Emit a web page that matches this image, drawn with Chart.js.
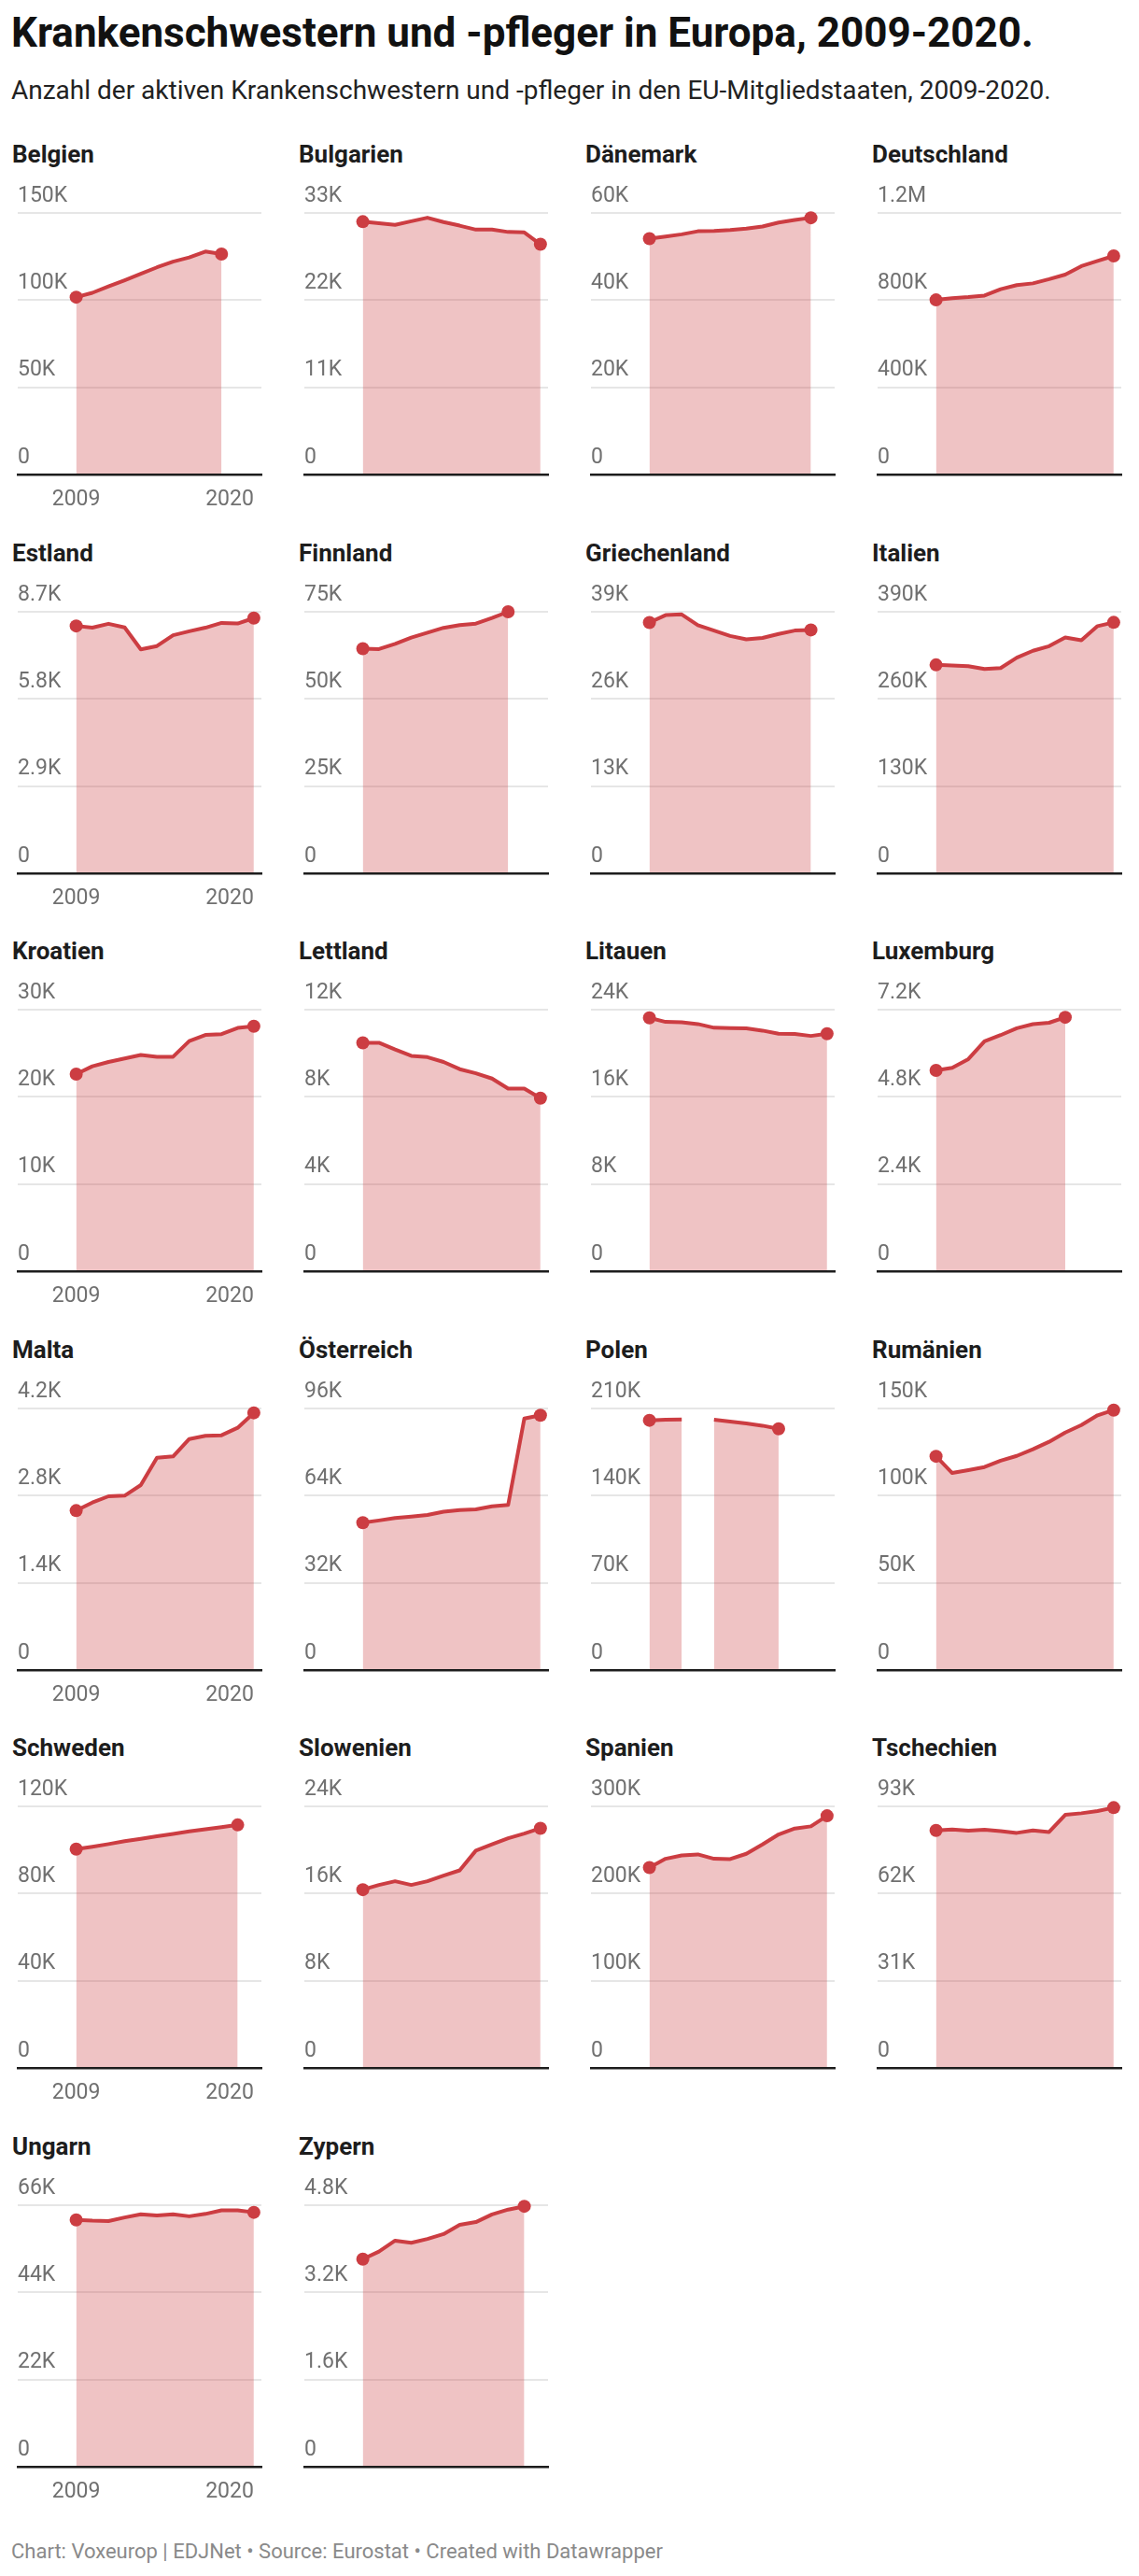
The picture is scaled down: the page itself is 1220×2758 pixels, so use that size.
<!DOCTYPE html>
<html lang="de">
<head>
<meta charset="utf-8">
<title>Krankenschwestern und -pfleger in Europa, 2009-2020.</title>
<script src="https://cdn.jsdelivr.net/npm/chart.js@4.4.1/dist/chart.umd.min.js"></script>
<style>
  html, body { margin: 0; padding: 0; background: #fff; }
  body { width: 1220px; height: 2758px; position: relative; overflow: hidden; font-family: Roboto, "Noto Sans", sans-serif; }
  .hed { position: absolute; left: 12px; top: 10px; font-size: 44px; line-height: 50px; font-weight: 700; color: #111; white-space: nowrap; }
  .dek { position: absolute; left: 12px; top: 81px; font-size: 28px; line-height: 32px; color: #222; white-space: nowrap; }
  .panel { position: absolute; width: 275px; height: 403px; }
  .panel h3 { margin: 0; padding-left: 1px; font-size: 26px; line-height: 30px; font-weight: 700; color: #1d1d1d; white-space: nowrap; }
  .panel canvas { position: absolute; left: 0; top: 43px; }
  .foot { position: absolute; left: 12px; top: 2719px; font-size: 22px; line-height: 26px; color: #8a8a8a; white-space: nowrap; }
</style>
</head>
<body>
<div class="hed">Krankenschwestern und -pfleger in Europa, 2009-2020.</div>
<div class="dek">Anzahl der aktiven Krankenschwestern und -pfleger in den EU-Mitgliedstaaten, 2009-2020.</div>
<div id="grid"></div>
<div class="foot">Chart: Voxeurop | EDJNet • Source: Eurostat • Created with Datawrapper</div>

<script>
/* ============================================================
   Krankenschwestern und -pfleger in Europa — small multiples
   values in thousands (K)
   ============================================================ */

var YEARS = [2009, 2010, 2011, 2012, 2013, 2014, 2015, 2016, 2017, 2018, 2019, 2020];

var COUNTRIES = ['Belgien', 'Bulgarien', 'Dänemark', 'Deutschland',
                 'Estland', 'Finnland', 'Griechenland', 'Italien',
                 'Kroatien', 'Lettland', 'Litauen', 'Luxemburg',
                 'Malta', 'Österreich', 'Polen', 'Rumänien',
                 'Schweden', 'Slowenien', 'Spanien', 'Tschechien',
                 'Ungarn', 'Zypern'];

// top of each y axis (K); ticks are 0, 1/3, 2/3 and full
var Y_MAX = [150, 33, 60, 1200,
             8.7, 75, 39, 390,
             30, 12, 24, 7.2,
             4.2, 96, 210, 150,
             120, 24, 300, 93,
             66, 4.8];

var belgien      = [101.7, 104.2, 107.9, 111.4, 115.1, 118.8, 122.1, 124.5, 127.9, 126.4, null, null];
var bulgarien    = [31.9, 31.7, 31.5, 31.95, 32.4, 31.85, 31.4, 30.9, 30.9, 30.6, 30.55, 29.05];
var daenemark    = [54.1, 54.6, 55.1, 55.8, 55.9, 56.1, 56.4, 56.9, 57.8, 58.4, 58.9, null];
var deutschland  = [801, 809, 814, 821, 850, 869, 877, 896, 917, 956, 980, 1003];
var estland      = [8.23, 8.17, 8.30, 8.18, 7.45, 7.56, 7.92, 8.05, 8.17, 8.33, 8.31, 8.49];
var finnland     = [64.4, 64.3, 65.8, 67.6, 69.0, 70.4, 71.2, 71.6, 73.2, 75.0, null, null];
var griechenland = [37.4, 38.5, 38.6, 37.0, 36.2, 35.4, 34.9, 35.1, 35.7, 36.2, 36.3, null];
var italien      = [310.8, 309.8, 308.9, 304.7, 306.1, 321.5, 331.8, 338.7, 351.8, 347.6, 368.6, 374.2];
var kroatien     = [22.6, 23.5, 24.0, 24.4, 24.8, 24.6, 24.6, 26.4, 27.1, 27.2, 27.9, 28.1];
var lettland     = [10.48, 10.48, 10.17, 9.88, 9.82, 9.60, 9.27, 9.08, 8.84, 8.38, 8.38, 7.94];
var litauen      = [23.25, 22.88, 22.85, 22.68, 22.34, 22.31, 22.28, 22.08, 21.79, 21.77, 21.59, 21.79];
var luxemburg    = [5.53, 5.60, 5.84, 6.33, 6.50, 6.69, 6.80, 6.84, 6.99, null, null, null];
var malta        = [2.56, 2.69, 2.79, 2.80, 2.97, 3.41, 3.43, 3.71, 3.76, 3.77, 3.89, 4.13];
var oesterreich  = [54.1, 54.9, 55.8, 56.3, 56.9, 58.1, 58.7, 59.0, 60.1, 60.6, 92.3, 93.5];
var polen        = [200.5, 201.0, 201.2, null, 201.0, 199.5, 198.0, 196.2, 193.7, null, null, null];
var rumaenien    = [122.6, 113.0, 114.6, 116.4, 120.1, 122.8, 126.6, 130.9, 136.2, 140.5, 146.1, 149.1];
var schweden     = [100.4, 101.5, 102.7, 104.0, 105.1, 106.3, 107.4, 108.5, 109.5, 110.5, 111.5, null];
var slowenien    = [16.36, 16.79, 17.13, 16.79, 17.13, 17.65, 18.13, 19.94, 20.51, 21.08, 21.51, 21.99];
var spanien      = [229.9, 239.9, 243.8, 244.9, 239.9, 239.5, 245.6, 256.3, 267.8, 274.6, 277.1, 289.2];
var tschechien   = [84.45, 84.79, 84.34, 84.68, 84.23, 83.57, 84.45, 83.90, 90.0, 90.55, 91.33, 92.55];
var ungarn       = [62.3, 62.1, 62.0, 62.9, 63.7, 63.4, 63.7, 63.2, 63.8, 64.7, 64.7, 64.2];
var zypern       = [3.81, 3.95, 4.15, 4.11, 4.18, 4.27, 4.44, 4.49, 4.63, 4.72, 4.78, null];

var SERIES = [belgien, bulgarien, daenemark, deutschland,
              estland, finnland, griechenland, italien,
              kroatien, lettland, litauen, luxemburg,
              malta, oesterreich, polen, rumaenien,
              schweden, slowenien, spanien, tschechien,
              ungarn, zypern];

// layout
var COL_LEFT = [12, 319, 626, 933];
var GRID_TOP = 228, ROW_PITCH = 426.6;
var PANEL_W = 275, CANVAS_H = 360;
var X_MIN = 2005.38, X_MAX = 2020.47;

var RED = '#cc3d42';
var RED_FILL = 'rgba(204,61,66,0.31)';
var TICK_GREY = '#707070';

function fmtK(v) {
  if (v === 0) return '0';
  if (v >= 1000) return parseFloat((v / 1000).toFixed(1)) + 'M';
  return parseFloat(v.toFixed(1)) + 'K';
}

function endIndexes(arr) {
  var first = -1, last = -1;
  arr.forEach(function(v, i) {
    if (v == null) return;
    if (first < 0) first = i;
    last = i;
  });
  return [first, last];
}

// 2009 centred, 2020 flush right, first column only
var yearLabels = {
  id: 'yearLabels',
  afterDraw: function(chart, args, opts) {
    if (!opts.show) return;
    var x = chart.scales.x, ctx = chart.ctx, y = chart.chartArea.bottom + 33;
    ctx.save();
    ctx.font = '23px Roboto';
    ctx.fillStyle = TICK_GREY;
    ctx.textBaseline = 'alphabetic';
    ctx.textAlign = 'center';
    ctx.fillText(String(YEARS[0]), x.getPixelForValue(YEARS[0]), y);
    ctx.textAlign = 'right';
    ctx.fillText(String(YEARS[YEARS.length - 1]), x.getPixelForValue(YEARS[YEARS.length - 1]), y);
    ctx.restore();
  }
};

function makePanel(i) {
  var col = i % 4, row = Math.floor(i / 4);
  var top = GRID_TOP + row * ROW_PITCH - 78;

  var panel = document.createElement('div');
  panel.className = 'panel';
  panel.style.left = COL_LEFT[col] + 'px';
  panel.style.top = top + 'px';
  panel.innerHTML = '<h3>' + COUNTRIES[i] + '</h3>';
  var canvas = document.createElement('canvas');
  canvas.width = PANEL_W;
  canvas.height = CANVAS_H;
  panel.appendChild(canvas);
  document.getElementById('grid').appendChild(panel);

  var values = SERIES[i];
  var ends = endIndexes(values);
  var max = Y_MAX[i];

  new Chart(canvas.getContext('2d'), {
    type: 'line',
    data: {
      datasets: [{
        data: values.map(function(v, k) { return { x: YEARS[k], y: v }; }),
        borderColor: RED,
        backgroundColor: RED_FILL,
        borderWidth: 4,
        borderJoinStyle: 'round',
        fill: 'origin',
        tension: 0,
        spanGaps: false,
        clip: false,
        pointRadius: function(ctx) { return (ctx.dataIndex === ends[0] || ctx.dataIndex === ends[1]) ? 7 : 0; },
        pointBackgroundColor: RED,
        pointBorderWidth: 0,
        pointHoverRadius: 0
      }]
    },
    options: {
      responsive: false,
      animation: false,
      events: [],
      layout: { padding: { top: 35, bottom: 45, left: 0, right: 0 } },
      plugins: {
        legend: { display: false },
        tooltip: { enabled: false },
        yearLabels: { show: col === 0 }
      },
      scales: {
        x: {
          type: 'linear', min: X_MIN, max: X_MAX,
          grid: { display: false, drawTicks: false },
          ticks: { display: false },
          border: { display: true, color: '#1d1d1d', width: 2.5, z: 1 }
        },
        y: {
          min: 0, max: max,
          afterBuildTicks: function(scale) {
            scale.ticks = [0, 1, 2, 3].map(function(k) { return { value: max * k / 3 }; });
          },
          grid: { color: '#e6e6e6', lineWidth: 2, drawTicks: false },
          border: { display: false },
          ticks: {
            mirror: true, padding: 0, labelOffset: -18,
            color: TICK_GREY,
            font: { family: 'Roboto', size: 23 },
            callback: function(v) { return fmtK(v); }
          }
        }
      }
    },
    plugins: [yearLabels]
  });
}

COUNTRIES.forEach(function(c, i) { makePanel(i); });
</script>
</body>
</html>
